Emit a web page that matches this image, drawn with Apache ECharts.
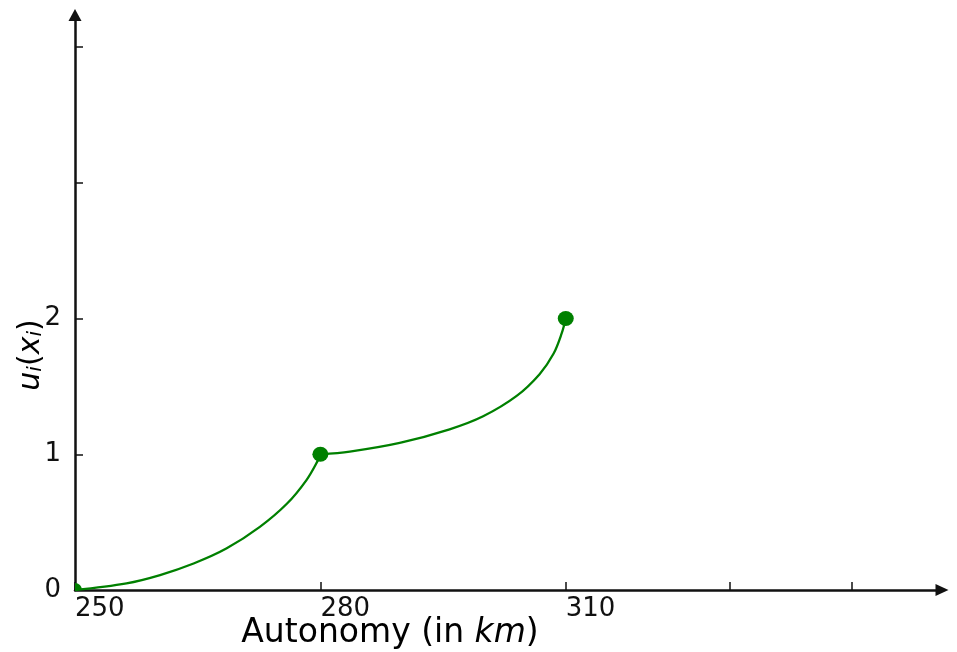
<!DOCTYPE html>
<html>
<head>
<meta charset="utf-8">
<script src="https://cdn.jsdelivr.net/npm/echarts@6/dist/echarts.min.js"></script>
<style>html,body{margin:0;padding:0;background:#fff;}#c{width:957px;height:652px;}</style>
</head>
<body>
<div id="c"></div>
<script>
// Data
const seg1X = [250, 256.3, 260.4, 264.5, 268.5, 272.6, 275.9, 278.3, 279.7, 280];
const seg1Y = [0, 0.049, 0.11, 0.195, 0.305, 0.465, 0.635, 0.81, 0.955, 1];
const seg2X = [280, 283.6, 289.7, 295.8, 299.9, 304.0, 306.8, 308.5, 309.5, 310];
const seg2Y = [1, 1.02, 1.084, 1.184, 1.28, 1.43, 1.59, 1.74, 1.89, 2];
const pointX = [250, 280, 310];
const pointY = [0, 1, 2];
const xTicks = [250, 280, 310, 330, 345];
const xTickLabels = [250, 280, 310];
const yTicks = [0, 1, 2, 3, 4];
const yTickLabels = [0, 1, 2];

const zip = (a, b) => a.map((v, i) => [v, b[i]]);
const FONT = 'DejaVu Sans';
const GREEN = '#008000';
const AX = '#111111';

const chart = echarts.init(document.getElementById('c'), null, {renderer: 'canvas'});
const quarter = 'path://M0,10 L0,0 A10,10 0 0,1 10,10 Z';

chart.setOption({
  animation: false,
  backgroundColor: '#fff',
  grid: {left: 75, right: 15, top: 15, bottom: 62, containLabel: false},
  xAxis: {
    type: 'value', min: 250, max: 356,
    axisLine: {show: true, onZero: false, symbol: ['none', 'triangle'], symbolSize: [12, 13], lineStyle: {color: AX, width: 2.5}},
    axisTick: {show: true, inside: true, length: 8, customValues: xTicks, lineStyle: {color: AX, width: 1.5}},
    axisLabel: {show: true, customValues: xTickLabels, align: 'left', margin: 6, fontFamily: FONT, fontSize: 26, color: AX},
    splitLine: {show: false}
  },
  yAxis: {
    type: 'value', min: 0, max: 4.236,
    axisLine: {show: true, onZero: false, symbol: ['none', 'triangle'], symbolSize: [13, 12], lineStyle: {color: AX, width: 2.5}},
    axisTick: {show: true, inside: true, length: 8, customValues: yTicks, lineStyle: {color: AX, width: 1.5}},
    axisLabel: {show: true, customValues: yTickLabels, margin: 14, fontFamily: FONT, fontSize: 26, color: AX, padding: [0, 0, 12, 0]},
    splitLine: {show: false}
  },
  graphic: [
    {type: 'text', x: 390, y: 633, style: {
      text: '{n|Autonomy (in }{i|km}{n|)}', align: 'center', verticalAlign: 'middle',
      rich: {n: {fontFamily: FONT, fontSize: 33, color: AX}, i: {fontFamily: FONT, fontSize: 33, fontStyle: 'italic', color: AX}}
    }},
    {type: 'text', x: 28, y: 355, rotation: Math.PI / 2, style: {
      text: '{u|u}{s|i}{p|(}{u|x}{s|i}{p|)}', align: 'center', verticalAlign: 'middle',
      rich: {
        u: {fontFamily: FONT, fontSize: 30, fontStyle: 'italic', color: AX, verticalAlign: 'bottom', lineHeight: 36},
        p: {fontFamily: FONT, fontSize: 30, color: AX, verticalAlign: 'bottom', lineHeight: 36},
        s: {fontFamily: FONT, fontSize: 20, fontStyle: 'italic', color: AX, verticalAlign: 'bottom', lineHeight: 28}
      }
    }}
  ],
  series: [
    {type: 'line', data: zip(seg1X, seg1Y), smooth: 0.35, showSymbol: false, symbol: 'none',
     lineStyle: {color: GREEN, width: 2.3}, clip: false, z: 3},
    {type: 'line', data: zip(seg2X, seg2Y), smooth: 0.35, showSymbol: false, symbol: 'none',
     lineStyle: {color: GREEN, width: 2.3}, clip: false, z: 3},
    {type: 'scatter', clip: false, z: 4,
     data: zip(pointX, pointY).map((p, i) => i === 0
        ? {value: p, symbol: quarter, symbolSize: 7, symbolOffset: [3.5, -3.5]}
        : {value: p, symbol: 'circle', symbolSize: [16, 15]}),
     itemStyle: {color: GREEN, opacity: 1}}
  ]
});
</script>
</body>
</html>
